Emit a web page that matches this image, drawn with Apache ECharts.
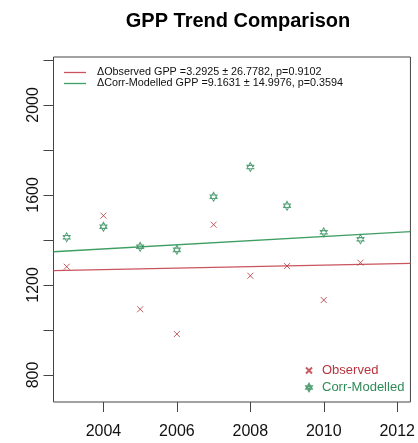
<!DOCTYPE html>
<html>
<head>
<meta charset="utf-8">
<script src="https://cdn.jsdelivr.net/npm/echarts@6/dist/echarts.min.js"></script>
<style>html,body{margin:0;padding:0;background:#fff;}#c{width:418px;height:443px;}</style>
</head>
<body>
<div id="c"></div>
<script>
// ---- data ----
const years = [2003, 2004, 2005, 2006, 2007, 2008, 2009, 2010, 2011];
const observed = [1281, 1508, 1092, 982, 1468, 1241, 1284, 1133, 1299];
const corrModelled = [1412, 1459, 1370, 1356, 1592, 1724, 1552, 1434, 1403];
const trendNames = ['\u0394Observed GPP =3.2925 \u00b1 26.7782, p=0.9102',
                    '\u0394Corr-Modelled GPP =9.1631 \u00b1 14.9976, p=0.3594'];
const trendSlopes = [3.2925, 9.1631];
const trendAt2003 = [1265, 1351];
const xTicks = [2004, 2006, 2008, 2010, 2012];
const yTicks = [800, 1000, 1200, 1400, 1600, 1800, 2000, 2200];
const yLabels = [800, 1200, 1600, 2000];

const X_MIN = 2002.64, X_MAX = 2012.36, Y_MIN = 680, Y_MAX = 2213;
const RED = '#b8333c', GREEN = '#2e8b57';
const RED_LINE = '#c9545c', GREEN_LINE = '#3f9e62';

function trendLine(i) {
  return [X_MIN, X_MAX].map(x => [x, trendAt2003[i] + trendSlopes[i] * (x - 2003)]);
}

const crossPath = 'path://M0,0L10,10M10,0L0,10';
const starPath = 'path://M5,0L10,9L0,9ZM0,4L10,4L5,13Z';

const chart = echarts.init(document.getElementById('c'), null, {renderer: 'canvas'});
chart.setOption({
  animation: false,
  backgroundColor: '#fff',
  textStyle: {fontFamily: 'Liberation Sans, Arial, sans-serif'},
  title: {
    text: 'GPP Trend Comparison',
    left: 233, top: 6, textAlign: 'center',
    textStyle: {fontSize: 20, fontWeight: 'bold', color: '#000', fontFamily: 'Liberation Sans, Arial, sans-serif'}
  },
  grid: {
    left: 53.5, right: 4, top: 57, bottom: 41,
    show: true, borderColor: '#444', borderWidth: 1, backgroundColor: 'transparent',
    containLabel: false
  },
  legend: [
    {
      orient: 'vertical', left: 64, top: 67, padding: 0, itemGap: 0,
      itemWidth: 22, itemHeight: 1.3,
      textStyle: {fontSize: 10.8, lineHeight: 10.5, color: '#111', padding: [0, 0, 0, 6], fontFamily: 'Liberation Sans, Arial, sans-serif'},
      data: [
        {name: trendNames[0], icon: 'rect'},
        {name: trendNames[1], icon: 'rect'}
      ]
    },
    {
      orient: 'vertical', left: 305, top: 362, padding: 0, itemGap: 0,
      itemWidth: 6, itemHeight: 7,
      textStyle: {fontSize: 13, lineHeight: 17, padding: [0, 0, 0, 5], fontFamily: 'Liberation Sans, Arial, sans-serif'},
      data: [
        {name: 'Observed', icon: crossPath, textStyle: {color: RED}},
        {name: 'Corr-Modelled', icon: starPath, textStyle: {color: GREEN}}
      ]
    }
  ],
  xAxis: {
    type: 'value', min: X_MIN, max: X_MAX,
    splitLine: {show: false},
    axisLine: {show: false},
    axisTick: {show: true, length: 10, lineStyle: {color: '#444', width: 1}, customValues: xTicks},
    axisLabel: {fontSize: 16, color: '#111', margin: 22, customValues: xTicks, formatter: v => String(v)}
  },
  yAxis: {
    type: 'value', min: Y_MIN, max: Y_MAX,
    splitLine: {show: false},
    axisLine: {show: false},
    axisTick: {show: true, length: 10, lineStyle: {color: '#444', width: 1}, customValues: yTicks},
    axisLabel: {fontSize: 16, color: '#111', margin: 12, rotate: 90, customValues: yLabels, formatter: v => String(v)}
  },
  series: [
    {
      name: trendNames[0], type: 'line', data: trendLine(0), showSymbol: false, symbol: 'none',
      lineStyle: {color: RED_LINE, width: 1.3}, itemStyle: {color: RED_LINE}, z: 2
    },
    {
      name: trendNames[1], type: 'line', data: trendLine(1), showSymbol: false, symbol: 'none',
      lineStyle: {color: GREEN_LINE, width: 1.3}, itemStyle: {color: GREEN_LINE}, z: 2
    },
    {
      name: 'Observed', type: 'scatter', data: years.map((y, i) => [y, observed[i]]),
      symbol: crossPath, symbolSize: 6,
      itemStyle: {color: 'rgba(0,0,0,0)', borderColor: RED, borderWidth: 1}, z: 3
    },
    {
      name: 'Corr-Modelled', type: 'scatter', data: years.map((y, i) => [y, corrModelled[i]]),
      symbol: starPath, symbolSize: [7, 9],
      itemStyle: {color: 'rgba(0,0,0,0)', borderColor: GREEN, borderWidth: 1}, z: 3
    }
  ]
});
</script>
</body>
</html>
